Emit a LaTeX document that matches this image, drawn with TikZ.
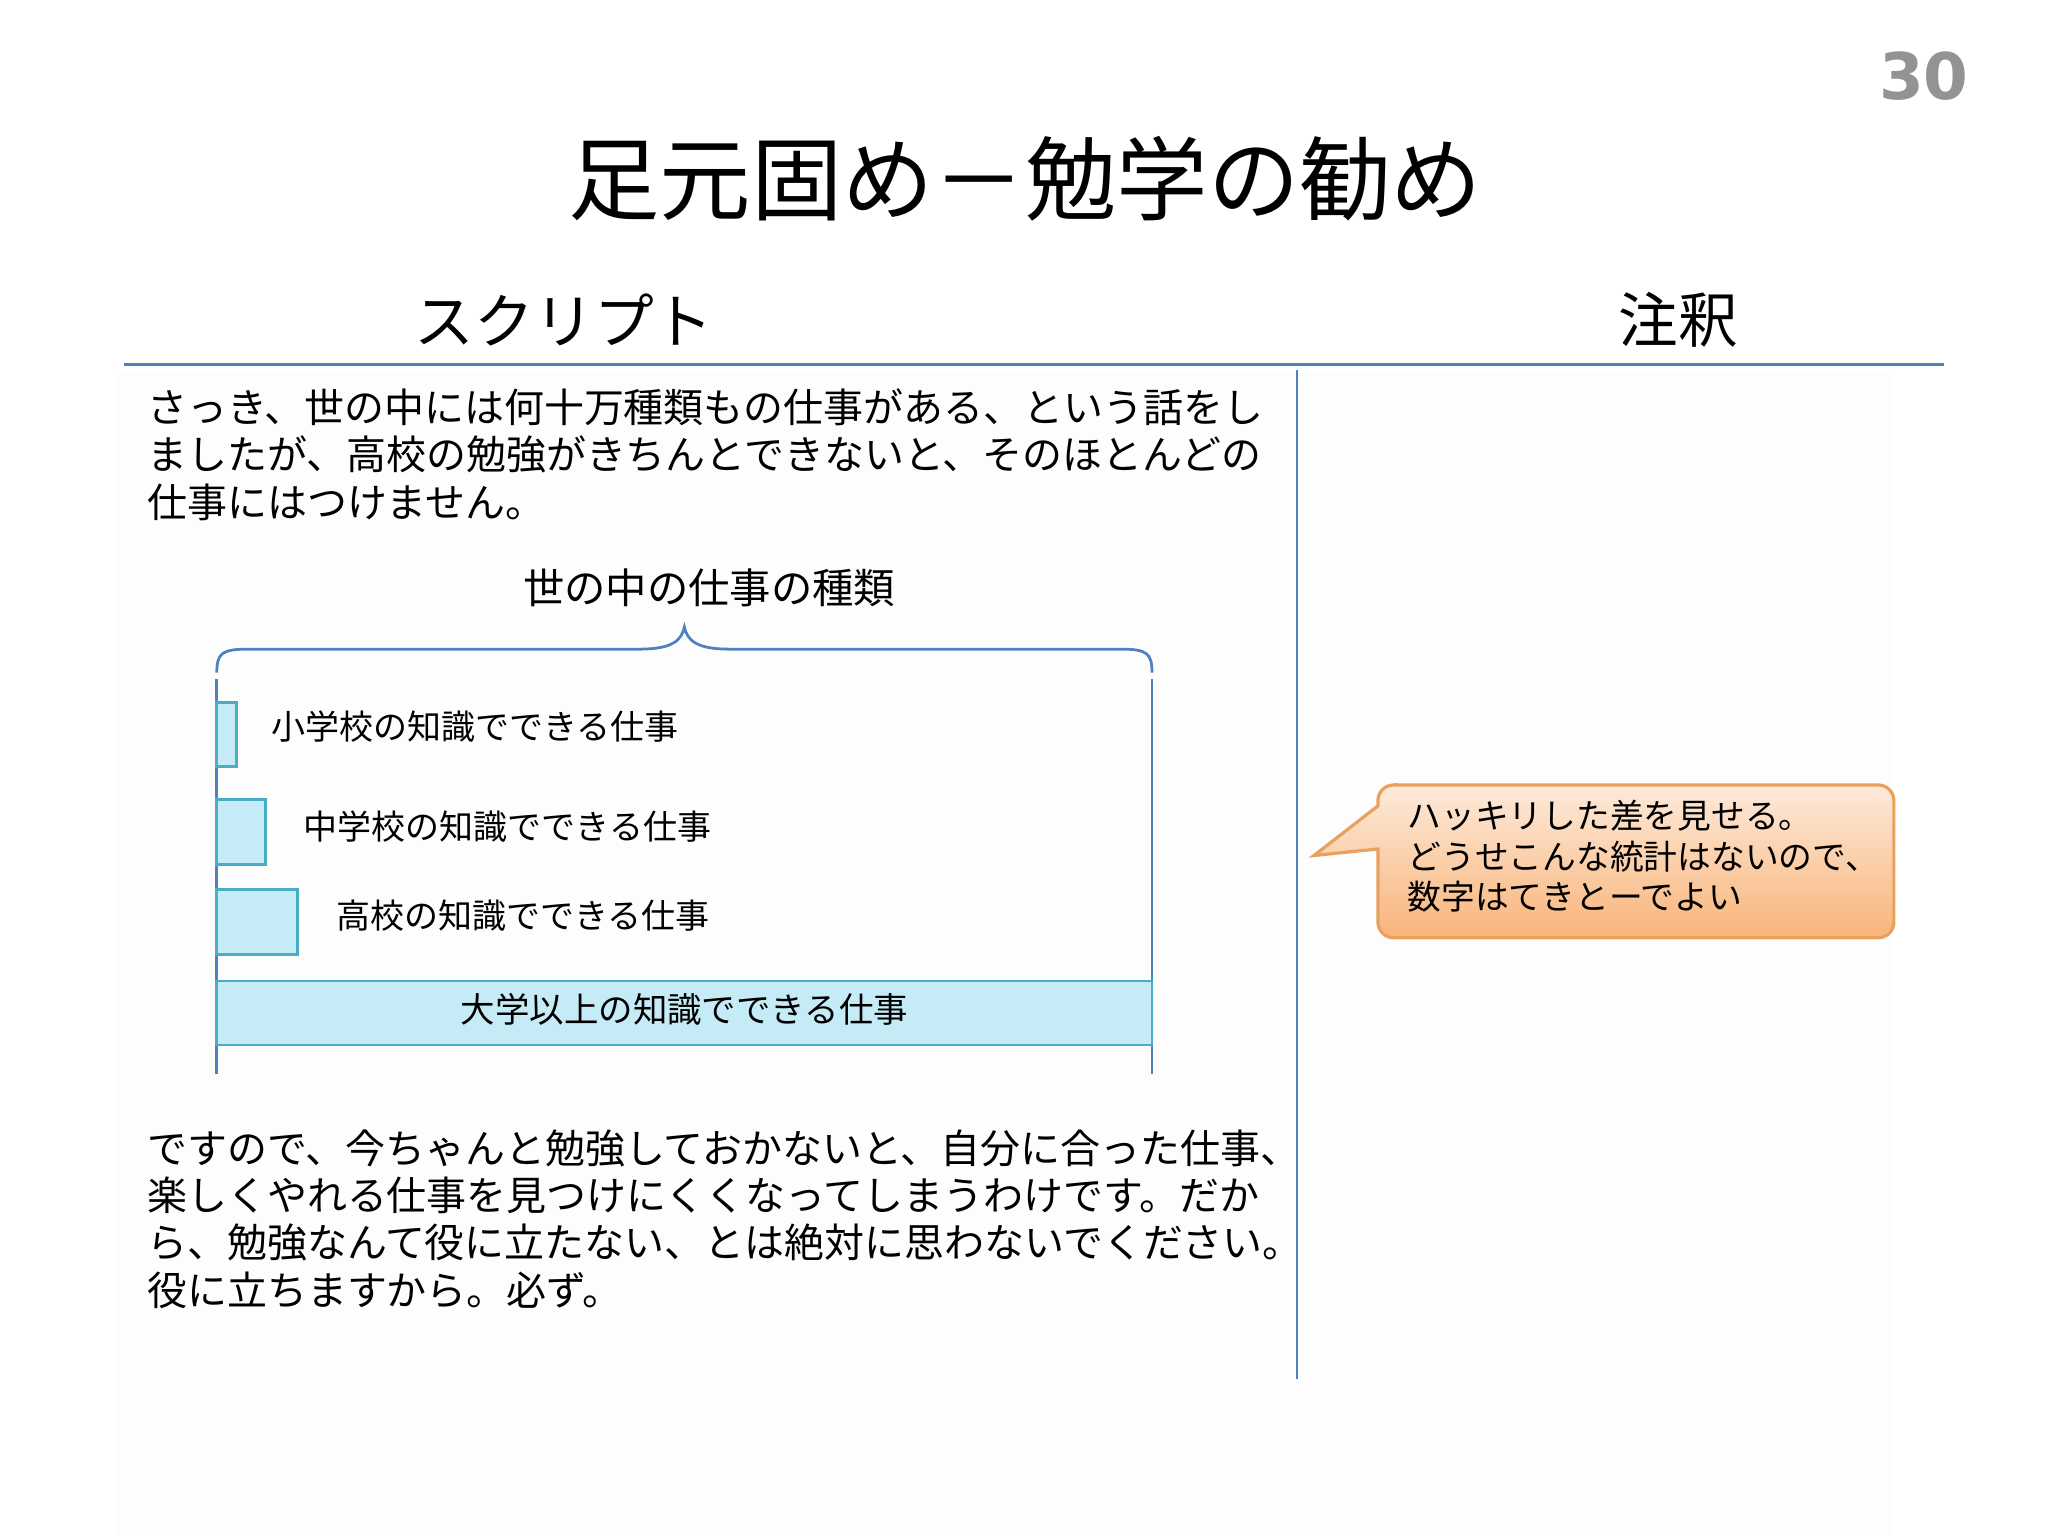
\documentclass[tikz,border=0pt]{standalone}
\usepackage{fontspec}
\setmainfont{Noto Sans CJK JP}
\newfontfamily\numfont{DejaVu Sans}
\definecolor{lineblue}{HTML}{4F81BD}
\definecolor{barfill}{HTML}{C5EBF7}
\definecolor{barline}{HTML}{4BACC6}
\definecolor{calltop}{HTML}{FDEADA}
\definecolor{callbot}{HTML}{F9B47A}
\definecolor{callline}{HTML}{E9A25E}
\tikzset{
  px/.style={x=0.01cm,y=-0.01cm},
  bar/.style={draw=barline,fill=barfill,line width=0.6pt},
  para/.style={anchor=west,inner sep=0,font=\fontsize{8.7pt}{10.3pt}\selectfont,align=left},
  lab/.style={anchor=west,inner sep=0,font=\fontsize{7.4pt}{8pt}\selectfont},
}
\begin{document}
\begin{tikzpicture}[px]
\useasboundingbox (0,0) rectangle (1568,1176);
\fill[gray!1.5] (88,285) rectangle (1448,1176);
\node[font=\numfont\bfseries\fontsize{14pt}{16pt}\selectfont,text=gray!85] (num) at (1473,58) {30};
\node[font=\fontsize{19.9pt}{21pt}\selectfont] (title) at (785,137) {足元固め－勉学の勧め};
\node[font=\fontsize{13pt}{15pt}\selectfont] (h1) at (432,245) {スクリプト};
\node[font=\fontsize{13pt}{15pt}\selectfont] (h2) at (1285,245) {注釈};
\draw[lineblue,line width=0.6pt] (95,279) coordinate (hl1) -- (1488,279) coordinate (hl2);
\draw[lineblue,line width=0.6pt] (993,283) coordinate (vl1) -- (993,1056) coordinate (vl2);
\node[para,anchor=north west] (p1) at (112,297) {さっき、世の中には何十万種類もの仕事がある、という話をし\\ましたが、高校の勉強がきちんとできないと、そのほとんどの\\仕事にはつけません。};
\node[font=\fontsize{9pt}{10pt}\selectfont] (cap) at (543,450) {世の中の仕事の種類};
\draw[lineblue,line width=0.6pt] (166,515) coordinate (bl) .. controls (166,500) and (170,497) .. (190,497) -- (490,497) .. controls (515,497) and (522,490) .. (524,480) coordinate (tip) .. controls (526,490) and (533,497) .. (558,497) -- (858,497) .. controls (878,497) and (882,500) .. (882,515) coordinate (br);
\draw[lineblue,line width=0.6pt] (166,520) coordinate (a1) -- (166,822) coordinate (a2);
\draw[lineblue,line width=0.6pt] (882,520) coordinate (b1) -- (882,822) coordinate (b2);
\draw[bar] (166,538) rectangle (181,587);
\draw[bar] (166,612) rectangle (203,662);
\draw[bar] (166,681) rectangle (228,731);
\draw[bar] (166,751) rectangle (882,800);
\node[lab] (l1) at (207,556) {小学校の知識でできる仕事};
\node[lab] (l2) at (232,633) {中学校の知識でできる仕事};
\node[lab] (l3) at (257,701) {高校の知識でできる仕事};
\node[font=\fontsize{7.5pt}{8pt}\selectfont] (l4) at (524,773) {大学以上の知識でできる仕事};
\node[para,anchor=north west] (p2) at (112,864) {ですので、今ちゃんと勉強しておかないと、自分に合った仕事、\\楽しくやれる仕事を見つけにくくなってしまうわけです。だか\\ら、勉強なんて役に立たない、とは絶対に思わないでください。\\役に立ちますから。必ず。};
\shade[top color=calltop,bottom color=callbot,draw=callline,line width=0.7pt]
 (1067,601) -- (1438,601) arc[start angle=90,end angle=0,radius=0.12cm] -- (1450,706) arc[start angle=0,end angle=-90,radius=0.12cm] -- (1067,718) arc[start angle=270,end angle=180,radius=0.12cm] -- (1055,650) -- (1006,655) -- (1055,617) -- (1055,613) arc[start angle=180,end angle=90,radius=0.12cm] -- cycle;
\node[lab,anchor=north west,align=left,font=\fontsize{7.35pt}{8.85pt}\selectfont] (c) at (1077,612) {ハッキリした差を見せる。\\どうせこんな統計はないので、\\数字はてきとーでよい};
\end{tikzpicture}
\end{document}
